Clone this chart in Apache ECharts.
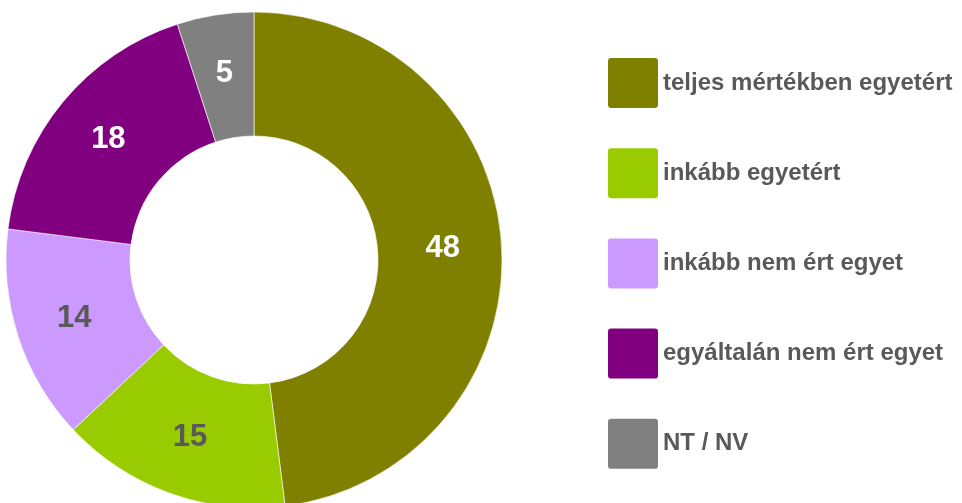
<!DOCTYPE html>
<html><head><meta charset="utf-8">
<script src="https://cdn.jsdelivr.net/npm/echarts@6/dist/echarts.min.js"></script>
<style>html,body{margin:0;padding:0;background:#fff}#c{width:962px;height:503px}</style>
</head><body><div id="c"></div>
<script>
const categories = ['teljes mértékben egyetért','inkább egyetért','inkább nem ért egyet','egyáltalán nem ért egyet','NT / NV'];
const values = [48, 15, 14, 18, 5];
const colors = ['#808000','#99CC00','#CC99FF','#800080','#808080'];
const labelColors = ['#ffffff','#595959','#595959','#ffffff','#ffffff'];

const chart = echarts.init(document.getElementById('c'), null, {renderer:'canvas'});
chart.setOption({
  animation:false,
  legend:{
    orient:'vertical', left:606, top:56, padding:0, itemWidth:52, itemHeight:52, itemGap:36.2,
    icon:'path://M4,0 H46 A4,4 0 0 1 50,4 V46 A4,4 0 0 1 46,50 H4 A4,4 0 0 1 0,46 V4 A4,4 0 0 1 4,0 Z',
    textStyle:{fontFamily:'Liberation Sans, Arial, sans-serif', fontWeight:'bold', fontSize:24, color:'#595959', padding:[0,0,0,-1]},
    data:categories
  },
  series:[{
    type:'pie', center:[254,260], radius:[124,248], startAngle:90, clockwise:true,
    avoidLabelOverlap:false,
    itemStyle:{borderColor:'#ffffff', borderWidth:0.6},
    label:{show:true, position:'inside', fontFamily:'Liberation Sans, Arial, sans-serif', fontWeight:'bold', fontSize:31, formatter:'{c}'},
    labelLine:{show:false},
    emphasis:{disabled:true},
    data: categories.map((n,i)=>({name:n, value:values[i], itemStyle:{color:colors[i]}, label:{color:labelColors[i]}}))
  }]
});
</script></body></html>
